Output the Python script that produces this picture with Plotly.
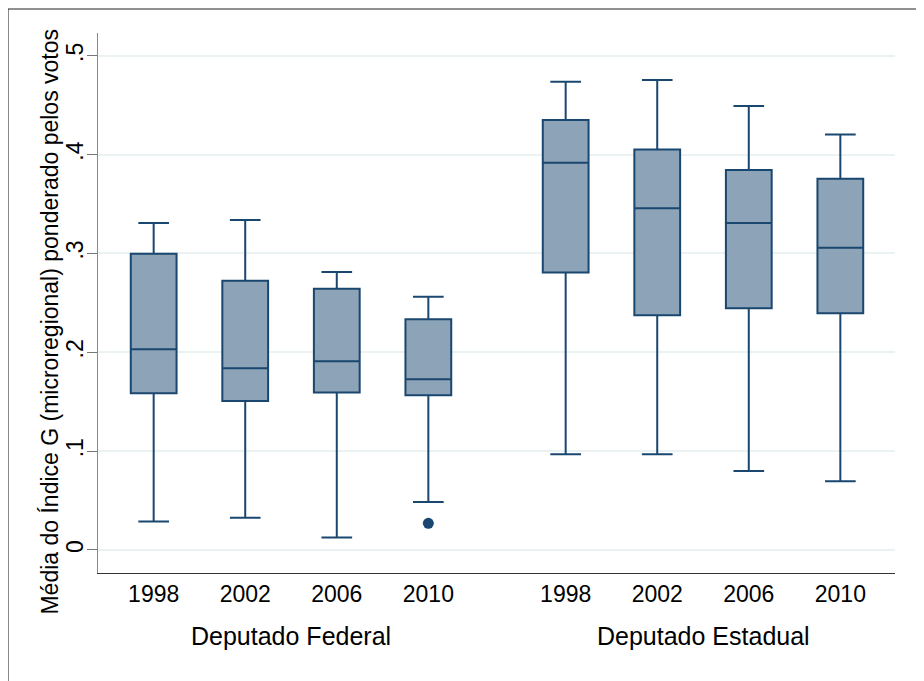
# Box plot of the weighted G index by election year, federal vs state deputies (Stata-style look)

import plotly.graph_objects as go

groups = ["Deputado Federal", "Deputado Estadual"]
years = ["1998", "2002", "2006", "2010"]

# box statistics, federal first then state
q1 = [0.1586, 0.1508, 0.1592, 0.1566, 0.2807, 0.2375, 0.2446, 0.2396]
median = [0.2031, 0.1839, 0.1910, 0.1728, 0.3917, 0.3458, 0.3307, 0.3057]
q3 = [0.2996, 0.2723, 0.2642, 0.2335, 0.4349, 0.4052, 0.3843, 0.3755]
lower = [0.0287, 0.0327, 0.0125, 0.0486, 0.0968, 0.0968, 0.0800, 0.0695]
upper = [0.3307, 0.3337, 0.2811, 0.2561, 0.4737, 0.4754, 0.4491, 0.4204]

# single outlier (Deputado Federal, 2010)
outlier_group = 0
outlier_year = 3
outlier_value = [0.027]

ytickvals = [0, 0.1, 0.2, 0.3, 0.4, 0.5]
yticktext = ["0", ".1", ".2", ".3", ".4", ".5"]

NAVY = "#1a476f"
FILL = "#8da3b7"
FONT = "Liberation Sans, Arial, sans-serif"

# x positions: 4 boxes per group, a 1.5 step between groups
gap = 1.5
positions = []
for g in range(len(groups)):
    for j in range(len(years)):
        positions.append(g * (len(years) - 1 + gap) + j)
group_centers = [g * (len(years) - 1 + gap) + (len(years) - 1) / 2 for g in range(len(groups))]

fig = go.Figure()
fig.add_trace(go.Box(
    x=positions, q1=q1, median=median, q3=q3,
    lowerfence=lower, upperfence=upper,
    orientation="v", boxpoints=False,
    width=0.5, whiskerwidth=0.67,
    fillcolor=FILL, line=dict(color=NAVY, width=2),
    showlegend=False,
))
fig.add_trace(go.Scatter(
    x=[positions[outlier_group * len(years) + outlier_year]], y=outlier_value,
    mode="markers", marker=dict(color=NAVY, size=11, symbol="circle"),
    showlegend=False,
))

annotations = [
    dict(x=c, y=-0.117, xref="x", yref="paper", text=name, showarrow=False,
         font=dict(family=FONT, size=25, color="black"), yanchor="middle")
    for c, name in zip(group_centers, groups)
]
annotations.append(dict(
    x=-0.06, y=0.466, xref="paper", yref="paper", textangle=-90,
    text="Média do Índice G (microregional) ponderado pelos votos",
    showarrow=False, font=dict(family=FONT, size=23, color="black"),
    xanchor="center", yanchor="middle",
))

# the page body adds an 8px margin, so the figure is 8px smaller and shifted
fig.update_layout(
    width=916, height=673,
    margin=dict(l=90, r=29, t=25, b=108),
    paper_bgcolor="white", plot_bgcolor="white",
    font=dict(family=FONT, color="black"),
    annotations=annotations,
    shapes=[dict(type="path", xref="paper", yref="paper",
                 path="M -0.113,-0.5 L -0.113,1.0444 L 1.2,1.0444",
                 line=dict(color="#222222", width=1.2))],
)
fig.update_xaxes(
    range=[-0.608, 8.097], tickmode="array",
    tickvals=positions, ticktext=years * len(groups),
    tickfont=dict(size=23), ticks="", showgrid=False, zeroline=False,
    showline=True, linecolor="#333333", linewidth=1,
)
fig.update_yaxes(
    range=[-0.0233, 0.523], tickmode="array",
    tickvals=ytickvals, ticktext=yticktext, tickangle=-90,
    tickfont=dict(size=23), ticks="outside", ticklen=10, tickcolor="#777777",
    ticklabelstandoff=-5,
    showgrid=True, gridcolor="#eaf2f3", gridwidth=2, zeroline=False,
    showline=True, linecolor="#888888", linewidth=1,
)

fig.write_html("out.html")
